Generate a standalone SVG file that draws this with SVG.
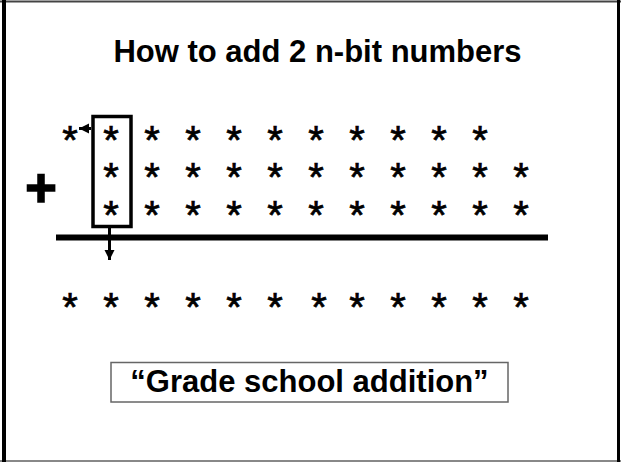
<svg xmlns="http://www.w3.org/2000/svg" width="621" height="462" viewBox="0 0 621 462">
<style>
  .t { font-family: "Liberation Sans", Arial, sans-serif; font-weight: bold; fill: #000; text-anchor: middle; }
  .s { font-family: "Liberation Sans", Arial, sans-serif; font-size: 40px; fill: #000; stroke: #000; stroke-width: 0.7; text-anchor: middle; }
</style>
<defs>
  <marker id="ah" markerWidth="11" markerHeight="11" refX="10" refY="5" orient="auto" markerUnits="userSpaceOnUse">
    <path d="M0,0 L10,5 L0,10 Z" fill="#000"/>
  </marker>
</defs>
<rect x="0" y="0" width="621" height="462" fill="#fff"/>
<g id="frame">
  <line x1="0" y1="1.5" x2="621" y2="1.5" stroke="#444" stroke-width="2"/>
  <line x1="0" y1="461" x2="621" y2="461" stroke="#888" stroke-width="2"/>
  <line x1="4" y1="0" x2="4" y2="462" stroke="#000" stroke-width="4"/>
  <line x1="618.5" y1="0" x2="618.5" y2="462" stroke="#000" stroke-width="3"/>
</g>
<g id="title">
  <text class="t" x="317.5" y="62" font-size="31">How to add 2 n-bit numbers</text>
</g>
<g id="plus">
  <text class="t" x="41" y="206" font-size="54" stroke="#000" stroke-width="1.6">+</text>
</g>
<g id="row1">
  <text class="s" x="70" y="154">*</text>
  <text class="s" x="111" y="154">*</text>
  <text class="s" x="152" y="154">*</text>
  <text class="s" x="193" y="154">*</text>
  <text class="s" x="234" y="154">*</text>
  <text class="s" x="275" y="154">*</text>
  <text class="s" x="316" y="154">*</text>
  <text class="s" x="357" y="154">*</text>
  <text class="s" x="398" y="154">*</text>
  <text class="s" x="439" y="154">*</text>
  <text class="s" x="480" y="154">*</text>
</g>
<g id="row2">
  <text class="s" x="111" y="191">*</text>
  <text class="s" x="152" y="191">*</text>
  <text class="s" x="193" y="191">*</text>
  <text class="s" x="234" y="191">*</text>
  <text class="s" x="275" y="191">*</text>
  <text class="s" x="316" y="191">*</text>
  <text class="s" x="357" y="191">*</text>
  <text class="s" x="398" y="191">*</text>
  <text class="s" x="439" y="191">*</text>
  <text class="s" x="480" y="191">*</text>
  <text class="s" x="521" y="191">*</text>
</g>
<g id="row3">
  <text class="s" x="111" y="229">*</text>
  <text class="s" x="152" y="229">*</text>
  <text class="s" x="193" y="229">*</text>
  <text class="s" x="234" y="229">*</text>
  <text class="s" x="275" y="229">*</text>
  <text class="s" x="316" y="229">*</text>
  <text class="s" x="357" y="229">*</text>
  <text class="s" x="398" y="229">*</text>
  <text class="s" x="439" y="229">*</text>
  <text class="s" x="480" y="229">*</text>
  <text class="s" x="521" y="229">*</text>
</g>
<g id="sumline">
  <line x1="56" y1="237.5" x2="548" y2="237.5" stroke="#000" stroke-width="6"/>
</g>
<g id="column-box">
  <rect x="93" y="116.5" width="38" height="110" fill="none" stroke="#000" stroke-width="3.5"/>
</g>
<g id="result">
  <text class="s" x="70" y="321">*</text>
  <text class="s" x="111" y="321">*</text>
  <text class="s" x="152" y="321">*</text>
  <text class="s" x="193" y="321">*</text>
  <text class="s" x="234" y="321">*</text>
  <text class="s" x="275" y="321">*</text>
  <text class="s" x="319" y="321">*</text>
  <text class="s" x="357" y="321">*</text>
  <text class="s" x="398" y="321">*</text>
  <text class="s" x="439" y="321">*</text>
  <text class="s" x="480" y="321">*</text>
  <text class="s" x="521" y="321">*</text>
</g>
<g id="connectors">
  <line x1="91" y1="128.5" x2="79" y2="128.5" stroke="#000" stroke-width="3" marker-end="url(#ah)"/>
  <line x1="109.5" y1="228" x2="109.5" y2="260" stroke="#000" stroke-width="3" marker-end="url(#ah)"/>
</g>
<g id="caption">
  <rect x="111" y="362.5" width="397" height="39.5" fill="none" stroke="#666" stroke-width="1.5"/>
  <text class="t" x="309.5" y="392" font-size="31">“Grade school addition”</text>
</g>
</svg>
